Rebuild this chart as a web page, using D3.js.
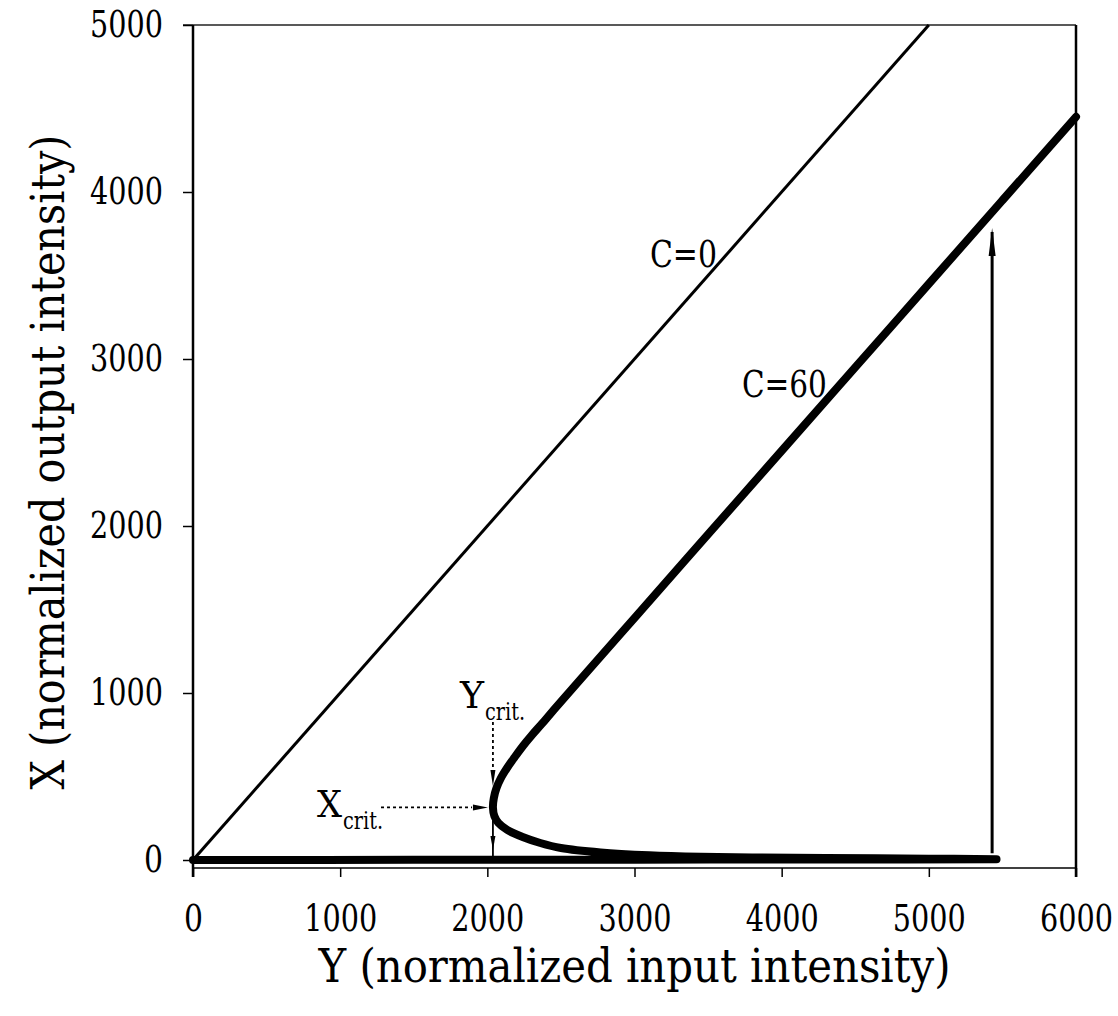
<!DOCTYPE html>
<html><head><meta charset="utf-8">
<script src="https://cdn.jsdelivr.net/npm/d3@7"></script>
<style>
body{margin:0;background:#fff}
svg{display:block}
svg text{font-family:"DejaVu Serif Condensed","DejaVu Serif",serif;font-stretch:condensed;fill:#000}
</style>
</head><body>
<svg id="chart" width="1118" height="1016"></svg>
<script>
// Axis ticks
const xTicks = [0, 1000, 2000, 3000, 4000, 5000, 6000];
const yTicks = [0, 1000, 2000, 3000, 4000, 5000];

// C = 0: output follows input
const c0Input  = [0, 5000];
const c0Output = [0, 5000];

// C = 60: lower branch, unstable middle branch back to the turning point, upper branch
const c60Input  = [0, 1500, 3000, 4500, 5460,
                   5000, 4300, 3800, 3450, 3100, 2770, 2500, 2360, 2240, 2135, 2075, 2048, 2038,
                   2044, 2062, 2092, 2134, 2185, 2242, 2300, 2370, 2450, 2612, 3013, 3510, 4014, 4510, 5005, 5502, 6000];
const c60Output = [0, 1, 2, 3, 4,
                   8, 12, 15, 19, 28, 45, 72, 102, 138, 180, 222, 262, 315,
                   370, 430, 490, 551, 615, 683, 745, 815, 897, 1060, 1462, 1960, 2464, 2960, 3455, 3952, 4450];

// Critical point and upward switching jump
const yCrit = 2038, xCrit = 315;
const jumpInput = 5430, jumpFrom = 40, jumpTo = 3784;

// Curve labels (input, output at the label's baseline start)
const curveLabels = [
  {text: "C=0",  input: 3105, output: 3551, len: 67},
  {text: "C=60", input: 3730, output: 2772, len: 85}
];

const svg = d3.select("#chart");
const x = d3.scaleLinear().domain([0, 6000]).range([193, 1076]);
const y = d3.scaleLinear().domain([0, 5000]).range([860, 25]);
const axisY = 868;
const tickLen = d => d === 0 ? 19 : 73;

// Narrow a tick label horizontally to a target width, keeping its anchor point
function squeeze(sel, lenFn) {
  sel.each(function (d) {
    const t = d3.select(this);
    const w = this.getComputedTextLength();
    const s = Math.min(1, lenFn(d) / w);
    const x0 = +t.attr("x") || 0;
    t.attr("x", x0 / s).attr("transform", `scale(${s},1)`);
  });
}

// Frame: top and right edges
svg.append("line").attr("x1", 183).attr("x2", x(6000)).attr("y1", y(5000)).attr("y2", y(5000))
  .attr("stroke", "#222").attr("stroke-width", 1.5);
svg.append("line").attr("x1", x(6000)).attr("x2", x(6000)).attr("y1", y(5000)).attr("y2", axisY + 9)
  .attr("stroke", "#000").attr("stroke-width", 2.5);

// Left axis
const gy = svg.append("g").attr("transform", `translate(${x(0)},0)`)
  .call(d3.axisLeft(y).tickValues(yTicks).tickFormat(d3.format("d")).tickSize(10).tickPadding(20));
gy.attr("font-family", null).attr("font-size", 37);
gy.select(".domain").remove();
gy.selectAll(".tick line").attr("stroke", "#000").attr("stroke-width", 1.5);
squeeze(gy.selectAll(".tick text"), tickLen);
svg.append("line").attr("x1", x(0)).attr("x2", x(0)).attr("y1", y(5000)).attr("y2", axisY + 9)
  .attr("stroke", "#000").attr("stroke-width", 2.5);

// Bottom axis, set slightly below zero
const gx = svg.append("g").attr("transform", `translate(0,${axisY})`)
  .call(d3.axisBottom(x).tickValues(xTicks).tickFormat(d3.format("d")).tickSize(9).tickPadding(28));
gx.attr("font-family", null).attr("font-size", 37);
gx.select(".domain").attr("stroke", "#000").attr("stroke-width", 1.5).attr("d", `M${x(0)},0H${x(6000)}`);
gx.selectAll(".tick line").attr("stroke", "#000").attr("stroke-width", 1.5);
squeeze(gx.selectAll(".tick text"), tickLen);

// Axis titles
svg.append("text").attr("x", (x(0) + x(6000)) / 2).attr("y", 982)
  .attr("text-anchor", "middle").attr("font-size", 47)
  .attr("textLength", 632).attr("lengthAdjust", "spacingAndGlyphs")
  .text("Y (normalized input intensity)");
svg.append("text").attr("transform", `translate(64,462) rotate(-90)`)
  .attr("text-anchor", "middle").attr("font-size", 47)
  .attr("textLength", 655).attr("lengthAdjust", "spacingAndGlyphs")
  .text("X (normalized output intensity)");

const line = d3.line().x(d => x(d[0])).y(d => y(d[1]));

// C = 0 line
svg.append("path").datum(d3.zip(c0Input, c0Output)).attr("d", line)
  .attr("fill", "none").attr("stroke", "#000").attr("stroke-width", 3);

// C = 60 curve
svg.append("path").datum(d3.zip(c60Input, c60Output))
  .attr("d", d3.line().curve(d3.curveCatmullRom).x(d => x(d[0])).y(d => y(d[1])))
  .attr("fill", "none").attr("stroke", "#000").attr("stroke-width", 8)
  .attr("stroke-linejoin", "round").attr("stroke-linecap", "round");

// Narrow arrowhead (tip at px,py; dir 1 points down, -1 points up)
function arrowHead(px, py, dir, len, half) {
  svg.append("path")
    .attr("d", `M${px},${py}L${px - half},${py - dir * len}L${px + half},${py - dir * len}Z`)
    .attr("fill", "#000");
}

// Upward jump at the switching point
svg.append("line").attr("x1", x(jumpInput)).attr("x2", x(jumpInput))
  .attr("y1", y(jumpFrom)).attr("y2", y(jumpTo) + 4)
  .attr("stroke", "#000").attr("stroke-width", 3);
arrowHead(x(jumpInput), y(jumpTo), -1, 28, 3.5);

// Y_crit marker
svg.append("line").attr("x1", x(yCrit)).attr("x2", x(yCrit)).attr("y1", 722).attr("y2", 772)
  .attr("stroke", "#000").attr("stroke-width", 1.8).attr("stroke-dasharray", "3,3");
arrowHead(x(yCrit), 786, 1, 16, 2.5);
svg.append("line").attr("x1", x(yCrit)).attr("x2", x(yCrit)).attr("y1", y(xCrit) + 4).attr("y2", y(0))
  .attr("stroke", "#000").attr("stroke-width", 1.8);
arrowHead(x(yCrit), 850, 1, 14, 2.5);

// X_crit marker
svg.append("line").attr("x1", 381).attr("x2", 472).attr("y1", y(xCrit)).attr("y2", y(xCrit))
  .attr("stroke", "#000").attr("stroke-width", 1.8).attr("stroke-dasharray", "3,3");
svg.append("path")
  .attr("d", `M${x(yCrit) - 5},${y(xCrit)}L${x(yCrit) - 20},${y(xCrit) - 3}L${x(yCrit) - 20},${y(xCrit) + 3}Z`)
  .attr("fill", "#000");

// Critical point labels: main letter plus "crit." subscript
function critLabel(letter, lx, ly, letterLen) {
  svg.append("text").attr("x", lx).attr("y", ly).attr("font-size", 37)
    .attr("textLength", letterLen).attr("lengthAdjust", "spacingAndGlyphs").text(letter);
  svg.append("text").attr("x", lx + letterLen + 1).attr("y", ly + 12).attr("font-size", 24)
    .attr("textLength", 40).attr("lengthAdjust", "spacingAndGlyphs").text("crit.");
}
critLabel("Y", 460, 708, 24);
critLabel("X", 317, 817, 25);

// Curve labels
svg.selectAll(".clabel").data(curveLabels).enter().append("text")
  .attr("class", "clabel")
  .attr("x", d => x(d.input)).attr("y", d => y(d.output))
  .attr("font-size", 38).attr("textLength", d => d.len).attr("lengthAdjust", "spacingAndGlyphs")
  .text(d => d.text);
</script>
</body></html>
